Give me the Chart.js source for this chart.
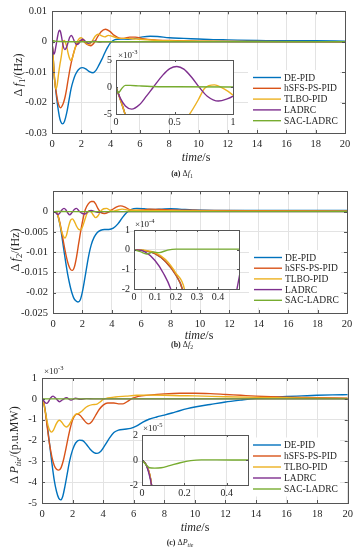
<!DOCTYPE html>
<html><head><meta charset="utf-8">
<script src="https://cdn.jsdelivr.net/npm/chart.js@4.4.0/dist/chart.umd.min.js"></script>
<style>
html,body{margin:0;padding:0;background:#fff;}
#wrap{position:relative;width:358px;height:550px;overflow:hidden;font-family:'Liberation Serif','Times New Roman',serif;color:#262626;background:#fff;}
canvas{position:absolute;}
.t{position:absolute;white-space:nowrap;line-height:1;}
.yt{transform:translate(-50%,-50%) rotate(-90deg);font-size:12px;}
.xt{transform:translate(-50%,-50%);font-size:12px;}
.cap{transform:translate(-50%,-50%);font-size:8px;}
.ex{transform:translateY(-50%);font-size:9px;}
sub{font-size:72%;vertical-align:-0.3em;line-height:0;}
sup{font-size:72%;vertical-align:0.5em;line-height:0;}
</style></head>
<body><div id="wrap">
<canvas id="ca" width="358" height="152" style="left:0;top:0"></canvas>
<canvas id="cb" width="358" height="150" style="left:0;top:180px"></canvas>
<canvas id="cc" width="358" height="160" style="left:0;top:360px"></canvas>
<canvas id="ia" width="142" height="78" style="left:96px;top:50px"></canvas>
<canvas id="ib" width="132" height="84" style="left:112px;top:220px"></canvas>
<canvas id="ic" width="133" height="75" style="left:120px;top:425px"></canvas>

<div class="t yt" style="left:18px;top:75px">Δ <i>f</i><sub>1</sub>/(Hz)</div>
<div class="t xt" style="left:196px;top:157px"><i>time</i>/s</div>
<div class="t cap" style="left:182px;top:174px"><b>(a)</b> Δ<i>f</i><sub>1</sub></div>
<div class="t ex" style="left:118px;top:55px">×10<sup>-3</sup></div>

<div class="t yt" style="left:15px;top:250px">Δ <i>f</i><sub>2</sub>/(Hz)</div>
<div class="t xt" style="left:199px;top:335px"><i>time</i>/s</div>
<div class="t cap" style="left:182px;top:345px"><b>(b)</b> Δ<i>f</i><sub>2</sub></div>
<div class="t ex" style="left:135px;top:224px">×10<sup>-4</sup></div>

<div class="t yt" style="left:14px;top:445px">Δ <i>P</i><sub><i>tie</i></sub>/(p.u.MW)</div>
<div class="t xt" style="left:195px;top:527px"><i>time</i>/s</div>
<div class="t cap" style="left:180px;top:543px"><b>(c)</b> Δ<i>P</i><sub><i>tie</i></sub></div>
<div class="t ex" style="left:44px;top:371px">×10<sup>-3</sup></div>
<div class="t ex" style="left:143px;top:428px">×10<sup>-5</sup></div>
</div>
<script>
// ---------------- DATA ----------------
const SERIES = ['DE-PID','hSFS-PS-PID','TLBO-PID','LADRC','SAC-LADRC'];
const COLORS = ['#0072BD','#D95319','#EDB120','#7E2F8E','#77AC30'];

const X_TICKS_MAIN = [0,2,4,6,8,10,12,14,16,18,20];
const F1_Y_TICKS = [0.01,0,-0.01,-0.02,-0.03];
const F2_Y_TICKS = [0,-0.005,-0.01,-0.015,-0.02,-0.025];
const PTIE_Y_TICKS = [1,0,-1,-2,-3,-4,-5];          // x10^-3
const IA_X_TICKS = [0,0.5,1];
const IA_Y_TICKS = [-0.005,0,0.005];
const IB_X_TICKS = [0,0.1,0.2,0.3,0.4];
const IB_Y_TICKS = [-0.0002,-0.0001,0,0.0001];
const IC_X_TICKS = [0,0.2,0.4];
const IC_Y_TICKS = [-0.02,0,0.02];                   // in 10^-3 units

// (a) Δf1 [time s, Hz]
const f1_DE = [[0,0],[0.04,-0.0025],[0.08,-0.0052],[0.15,-0.011],[0.2,-0.0135],[0.3,-0.0178],[0.4,-0.0215],[0.5,-0.0245],[0.6,-0.0263],[0.72,-0.027],[0.85,-0.0262],[1.0,-0.0235],[1.15,-0.0195],[1.3,-0.0155],[1.45,-0.0128],[1.6,-0.0108],[1.8,-0.0092],[2.05,-0.0085],[2.3,-0.0089],[2.55,-0.0098],[2.8,-0.0102],[3.0,-0.0094],[3.2,-0.0077],[3.4,-0.0058],[3.6,-0.0037],[3.8,-0.0018],[4.0,-0.0003],[4.3,0.0007],[4.7,0.0009],[5.2,0.0008],[5.7,0.0011],[6.2,0.0016],[6.7,0.0018],[7.2,0.0017],[8,0.0013],[9,0.0011],[10,0.0009],[11,0.0007],[12,0.0006],[14,0.0004],[16,0.0003],[18,0.0003],[20,0.0002]];
const f1_hSFS = [[0,0],[0.04,-0.0025],[0.08,-0.0052],[0.15,-0.0108],[0.2,-0.0135],[0.3,-0.017],[0.4,-0.0198],[0.5,-0.0213],[0.6,-0.0217],[0.7,-0.021],[0.8,-0.0198],[0.9,-0.018],[1.0,-0.0155],[1.1,-0.0125],[1.2,-0.0097],[1.3,-0.0072],[1.45,-0.0042],[1.6,-0.0018],[1.8,-0.0002],[1.95,0.0005],[2.15,0.0001],[2.4,-0.0009],[2.65,-0.0013],[2.9,-0.0002],[3.1,0.0015],[3.35,0.0033],[3.65,0.0041],[3.95,0.0034],[4.25,0.0021],[4.6,0.0012],[4.9,0.0011],[5.3,0.0015],[5.7,0.0015],[6.2,0.001],[7,0.0006],[8,0.0004],[10,0.0002],[14,0.0001],[20,0]];
const f1_TLBO = [[0,0],[0.04,-0.0025],[0.08,-0.0052],[0.15,-0.0105],[0.22,-0.0145],[0.28,-0.0155],[0.36,-0.014],[0.45,-0.0105],[0.55,-0.0072],[0.63,-0.005],[0.7,-0.0025],[0.76,-0.0002],[0.84,0.0004],[0.92,-0.0003],[1.0,-0.0015],[1.1,-0.0038],[1.2,-0.0055],[1.3,-0.0062],[1.4,-0.0052],[1.55,-0.0025],[1.7,-0.0002],[1.85,0.001],[2.0,0.0013],[2.15,0.0007],[2.35,-0.0006],[2.55,-0.0009],[2.75,0.0003],[2.95,0.0018],[3.15,0.0025],[3.4,0.0019],[3.6,0.0016],[3.85,0.0021],[4.1,0.0018],[4.5,0.0012],[5.0,0.0011],[5.5,0.001],[6,0.0008],[7,0.0005],[8,0.0003],[10,0.0002],[12,0.0001],[16,0],[20,0]];
const f1_LADRC = [[0,0],[0.04,-0.0022],[0.08,-0.0035],[0.134,-0.0041],[0.2,-0.0033],[0.26,-0.0017],[0.32,0],[0.4,0.0022],[0.46,0.0034],[0.52,0.0038],[0.58,0.0033],[0.65,0.0017],[0.71,0],[0.78,-0.0017],[0.875,-0.0026],[0.95,-0.0022],[1.0,-0.0017],[1.1,-0.0002],[1.2,0.0014],[1.32,0.0021],[1.42,0.0014],[1.55,-0.0001],[1.68,-0.0009],[1.8,-0.0007],[1.95,0.0002],[2.08,0.0008],[2.2,0.0005],[2.35,-0.0002],[2.5,-0.0005],[2.65,-0.0002],[2.8,0.0002],[3.0,0.0001],[3.3,-0.0001],[3.6,0],[20,0]];
const f1_SAC = [[0,0],[0.02,-0.0011],[0.045,-0.0004],[0.08,0.0003],[0.12,0.0003],[0.2,0.0002],[0.3,0.0001],[0.5,0.00005],[1,0],[20,0]];

// (b) Δf2 [time s, Hz]
const f2_DE = [[0,0],[0.05,-0.000005],[0.1,-0.00002],[0.15,-0.00006],[0.2,-0.00013],[0.23,-0.0002],[0.3,-0.0006],[0.4,-0.002],[0.5,-0.0038],[0.6,-0.006],[0.7,-0.0085],[0.8,-0.011],[0.9,-0.0133],[1.0,-0.0155],[1.1,-0.0173],[1.2,-0.0189],[1.3,-0.0202],[1.4,-0.0212],[1.55,-0.022],[1.7,-0.0223],[1.85,-0.0218],[2.0,-0.0198],[2.15,-0.0168],[2.3,-0.0135],[2.45,-0.0105],[2.6,-0.0082],[2.8,-0.0063],[3.0,-0.0052],[3.25,-0.0046],[3.5,-0.0044],[3.8,-0.0044],[4.1,-0.0041],[4.4,-0.0031],[4.7,-0.0016],[5.0,-0.0003],[5.3,0.0005],[5.7,0.0008],[6.2,0.0007],[6.8,0.0005],[7.4,0.0006],[8,0.0007],[8.6,0.0006],[9.5,0.0004],[11,0.0003],[14,0.0003],[17,0.0003],[20,0.0003]];
const f2_hSFS = [[0,0],[0.05,-0.000005],[0.1,-0.00002],[0.15,-0.00006],[0.2,-0.00013],[0.23,-0.0002],[0.3,-0.0006],[0.4,-0.0017],[0.5,-0.0033],[0.6,-0.0052],[0.7,-0.0072],[0.8,-0.0092],[0.9,-0.011],[1.0,-0.0125],[1.1,-0.0136],[1.2,-0.0143],[1.32,-0.0145],[1.45,-0.0137],[1.6,-0.0112],[1.75,-0.0078],[1.9,-0.0045],[2.05,-0.0017],[2.2,0.0005],[2.4,0.0019],[2.6,0.0025],[2.75,0.0025],[2.9,0.0019],[3.05,0.0008],[3.25,-0.0002],[3.5,-0.0005],[3.75,-0.0002],[4.0,0.0004],[4.3,0.0011],[4.6,0.0014],[4.9,0.0011],[5.2,0.0005],[5.6,0.0003],[6.1,0.0004],[6.6,0.0006],[7.2,0.0005],[8,0.0004],[10,0.0003],[14,0.0002],[20,0.0001]];
const f2_TLBO = [[0,0],[0.05,-0.000003],[0.1,-0.000015],[0.15,-0.00005],[0.2,-0.00012],[0.24,-0.0002],[0.32,-0.0008],[0.42,-0.0022],[0.52,-0.0039],[0.62,-0.0053],[0.72,-0.0062],[0.82,-0.0065],[0.92,-0.0058],[1.05,-0.0038],[1.2,-0.0021],[1.32,-0.0018],[1.45,-0.0024],[1.6,-0.0036],[1.75,-0.0044],[1.88,-0.0045],[2.0,-0.0038],[2.15,-0.0022],[2.3,-0.0006],[2.45,0.0002],[2.6,-0.0001],[2.75,-0.0009],[2.9,-0.0015],[3.05,-0.0011],[3.25,0.0001],[3.45,0.0007],[3.65,0.0008],[3.85,0.0004],[4.1,0.0001],[4.4,0.0004],[4.7,0.0006],[5.1,0.0004],[6,0.0003],[8,0.0002],[12,0.0001],[20,0.0001]];
const f2_LADRC = [[0,0],[0.05,-0.00001],[0.1,-0.000055],[0.14,-0.00012],[0.175,-0.0002],[0.25,-0.0005],[0.34,-0.0007],[0.45,-0.0004],[0.6,0.0004],[0.75,0.0008],[0.9,0.0003],[1.0,-0.0003],[1.14,-0.0008],[1.28,-0.0003],[1.45,0.0005],[1.6,0.0008],[1.75,0.0002],[1.95,-0.0004],[2.16,-0.0006],[2.35,-0.0001],[2.6,0.0003],[2.85,0],[3.1,-0.0002],[3.4,0],[20,0]];
const f2_SAC = [[0,0],[0.03,-0.00001],[0.06,-0.000022],[0.09,-0.000012],[0.12,-0.000015],[0.16,-0.000002],[0.2,0.000003],[0.5,0.000003],[1,0.000002],[20,0]];

// (c) ΔPtie [time s, 10^-3 p.u.MW]
const ptie_DE = [[0,0],[0.02,-0.004],[0.045,-0.02],[0.1,-0.13],[0.2,-0.5],[0.35,-1.3],[0.5,-2.2],[0.65,-3.1],[0.8,-3.9],[0.95,-4.45],[1.1,-4.78],[1.22,-4.85],[1.35,-4.7],[1.5,-4.2],[1.65,-3.6],[1.8,-3.0],[2.0,-2.45],[2.2,-2.12],[2.45,-1.98],[2.65,-2.0],[2.9,-2.18],[3.15,-2.42],[3.4,-2.58],[3.6,-2.62],[3.85,-2.52],[4.1,-2.25],[4.4,-1.9],[4.7,-1.62],[5.0,-1.5],[5.4,-1.46],[5.8,-1.42],[6.2,-1.3],[6.6,-1.12],[7.0,-0.98],[7.5,-0.87],[8,-0.78],[8.5,-0.68],[9,-0.57],[9.5,-0.47],[10,-0.39],[11,-0.27],[12,-0.15],[13,-0.06],[14,0.02],[15,0.07],[16,0.11],[17,0.14],[18,0.17],[19,0.19],[20,0.2]];
const ptie_hSFS = [[0,0],[0.02,-0.004],[0.045,-0.02],[0.1,-0.15],[0.2,-0.55],[0.35,-1.4],[0.5,-2.2],[0.65,-2.8],[0.8,-3.2],[0.95,-3.38],[1.1,-3.42],[1.25,-3.3],[1.4,-2.95],[1.55,-2.45],[1.7,-1.9],[1.85,-1.4],[2.0,-1.02],[2.15,-0.8],[2.3,-0.73],[2.5,-0.8],[2.7,-0.98],[2.9,-1.15],[3.05,-1.2],[3.25,-1.1],[3.5,-0.8],[3.75,-0.5],[4.0,-0.3],[4.3,-0.2],[4.7,-0.2],[5.0,-0.24],[5.3,-0.24],[5.6,-0.12],[5.9,0.02],[6.3,0.12],[7,0.18],[8,0.24],[9,0.27],[10,0.27],[11,0.25],[12,0.21],[13,0.17],[14,0.13],[15,0.1],[16,0.08],[18,0.05],[20,0.03]];
const ptie_TLBO = [[0,0],[0.02,-0.004],[0.045,-0.02],[0.1,-0.15],[0.2,-0.55],[0.3,-0.95],[0.4,-1.3],[0.5,-1.5],[0.62,-1.6],[0.75,-1.5],[0.9,-1.25],[1.05,-1.06],[1.15,-1.03],[1.3,-1.13],[1.45,-1.28],[1.6,-1.35],[1.75,-1.27],[1.9,-1.08],[2.05,-0.88],[2.2,-0.75],[2.4,-0.7],[2.6,-0.6],[2.8,-0.45],[3.0,-0.35],[3.3,-0.28],[3.6,-0.25],[3.8,-0.15],[4.0,-0.03],[4.3,0.04],[4.8,0.09],[5.5,0.13],[6.2,0.17],[7,0.18],[8,0.17],[9,0.15],[10,0.14],[12,0.1],[14,0.07],[16,0.05],[18,0.03],[20,0.02]];
const ptie_LADRC = [[0,0],[0.02,-0.004],[0.045,-0.02],[0.1,-0.08],[0.2,-0.18],[0.3,-0.22],[0.42,-0.14],[0.55,0.03],[0.72,0.13],[0.9,0.03],[1.15,-0.14],[1.35,-0.04],[1.6,0.05],[1.9,-0.06],[2.2,0.03],[2.5,-0.02],[2.9,0.01],[3.4,0],[20,0]];
const ptie_SAC = [[0,0],[0.015,-0.003],[0.035,-0.0062],[0.06,-0.0065],[0.09,-0.0062],[0.13,-0.0045],[0.18,-0.0022],[0.23,-0.0005],[0.28,0.0001],[0.35,0.0001],[0.5,0],[1,0],[20,0]];

const F1 = [f1_DE,f1_hSFS,f1_TLBO,f1_LADRC,f1_SAC];
const F2 = [f2_DE,f2_hSFS,f2_TLBO,f2_LADRC,f2_SAC];
const PTIE = [ptie_DE,ptie_hSFS,ptie_TLBO,ptie_LADRC,ptie_SAC];

// ---------------- STYLE / HELPERS ----------------
const FONT = "'Liberation Serif','Times New Roman',serif";
Chart.defaults.font.family = FONT;
const GRID = '#e3e3e3', AXIS = '#555555', TXT = '#262626';

function datasets(list){
  return list.map((pts,i)=>({
    label: SERIES[i],
    data: pts.map(p=>({x:p[0],y:p[1]})),
    borderColor: COLORS[i], backgroundColor: COLORS[i],
    borderWidth: 1.4, pointRadius: 0, fill:false,
    cubicInterpolationMode:'monotone',
    order: SERIES.length-1-i
  }));
}

const framePlugin = {
  id:'frame',
  beforeDraw(chart,args,o){
    if(o && o.bg){ const a=chart.chartArea, c=chart.ctx;
      c.save(); c.fillStyle='#fff'; c.fillRect(a.left,a.top,a.right-a.left,a.bottom-a.top); c.restore(); }
  },
  afterDraw(chart,args,o){
    const c=chart.ctx, a=chart.chartArea, x=chart.scales.x, y=chart.scales.y, L=(o&&o.tick)||3;
    c.save(); c.strokeStyle=AXIS; c.lineWidth=1;
    c.beginPath();
    x.ticks.forEach(t=>{ const p=Math.round(x.getPixelForValue(t.value))+0.5;
      c.moveTo(p,a.bottom); c.lineTo(p,a.bottom-L); c.moveTo(p,a.top); c.lineTo(p,a.top+L); });
    y.ticks.forEach(t=>{ const p=Math.round(y.getPixelForValue(t.value))+0.5;
      c.moveTo(a.left,p); c.lineTo(a.left+L,p); c.moveTo(a.right,p); c.lineTo(a.right-L,p); });
    c.stroke();
    c.strokeRect(Math.round(a.left)+0.5,Math.round(a.top)+0.5,Math.round(a.right-a.left),Math.round(a.bottom-a.top));
    c.restore();
  }
};

const legendPlugin = {
  id:'mlegend',
  afterDraw(chart,args,o){
    if(!o || !o.show) return;
    const c=chart.ctx, ds=chart.data.datasets;
    c.save();
    c.fillStyle='#fff';
    c.fillRect(o.x-5, o.y-o.dy/2-2, o.w, o.dy*ds.length+4);
    c.font = o.size+'px '+FONT; c.textBaseline='middle'; c.textAlign='left';
    ds.forEach((d,i)=>{
      const yy=o.y+i*o.dy;
      c.strokeStyle=d.borderColor; c.lineWidth=1.4;
      c.beginPath(); c.moveTo(o.x,yy); c.lineTo(o.x+o.len,yy); c.stroke();
      c.fillStyle=TXT; c.fillText(d.label,o.x+o.len+3,yy+0.5);
    });
    c.restore();
  }
};

function makeChart(id, cfg){
  const canvas=document.getElementById(id);
  const W=canvas.width, H=canvas.height;
  const cl=cfg.canvasLeft, ct=cfg.canvasTop;
  return new Chart(canvas,{
    type:'line',
    data:{datasets:datasets(cfg.series)},
    options:{
      responsive:false, animation:false, events:[],
      layout:{padding:{left:0,top:cfg.plot[1]-ct,right:(cl+W)-cfg.plot[2],bottom:0}},
      plugins:{legend:{display:false},tooltip:{enabled:false},
        frame:{bg:cfg.bg,tick:cfg.tickLen},
        mlegend:cfg.legend?{show:true,x:cfg.legend.x-cl,y:cfg.legend.y-ct,dy:cfg.legend.dy,len:28,w:92,size:9.5}:{show:false}},
      scales:{
        x:{type:'linear',min:cfg.xmin,max:cfg.xmax,
          afterBuildTicks:s=>{s.ticks=cfg.xticks.map(v=>({value:v}));},
          afterFit:s=>{s.height=(ct+H)-cfg.plot[3];},
          grid:{display:cfg.grid,color:GRID,drawTicks:false,lineWidth:1},
          border:{display:false},
          ticks:{color:TXT,font:{size:cfg.fs,family:FONT},padding:cfg.xpad,maxRotation:0,autoSkip:false,callback:cfg.xfmt}},
        y:{type:'linear',min:cfg.ymin,max:cfg.ymax,
          afterBuildTicks:s=>{s.ticks=cfg.yticks.map(v=>({value:v}));},
          afterFit:s=>{s.width=cfg.plot[0]-cl;},
          grid:{display:cfg.grid,color:GRID,drawTicks:false,lineWidth:1},
          border:{display:false},
          ticks:{color:TXT,font:{size:cfg.fs,family:FONT},padding:cfg.ypad,autoSkip:false,callback:cfg.yfmt}}
      }
    },
    plugins:[framePlugin,legendPlugin]
  });
}

const num = v => String(+(+v).toFixed(6));

// main (a)
makeChart('ca',{canvasLeft:0,canvasTop:0,plot:[52,10,345,133],series:F1,xmin:0,xmax:20,ymin:-0.03,ymax:0.01,
  xticks:X_TICKS_MAIN,yticks:F1_Y_TICKS,grid:true,fs:10.5,xpad:5,ypad:5,tickLen:3,bg:false,
  xfmt:num,yfmt:num,legend:{x:253,y:77.5,dy:10.8}});
// main (b)
makeChart('cb',{canvasLeft:0,canvasTop:180,plot:[53,189,347,313],series:F2,xmin:0,xmax:20,ymin:-0.025,ymax:0.005,
  xticks:X_TICKS_MAIN,yticks:F2_Y_TICKS,grid:true,fs:10.5,xpad:5,ypad:5,tickLen:3,bg:false,
  xfmt:num,yfmt:num,legend:{x:254,y:257.5,dy:10.7}});
// main (c)
makeChart('cc',{canvasLeft:0,canvasTop:360,plot:[42,378,348,503],series:PTIE,xmin:0,xmax:20,ymin:-5,ymax:1,
  xticks:X_TICKS_MAIN,yticks:PTIE_Y_TICKS,grid:true,fs:10.5,xpad:5,ypad:5,tickLen:3,bg:false,
  xfmt:num,yfmt:num,legend:{x:253,y:445,dy:11}});
// inset (a)
makeChart('ia',{canvasLeft:96,canvasTop:50,plot:[116,59,233,114],series:F1,xmin:0,xmax:1,ymin:-0.005,ymax:0.005,
  xticks:IA_X_TICKS,yticks:IA_Y_TICKS,grid:false,fs:10,xpad:2,ypad:4,tickLen:2,bg:true,
  xfmt:num,yfmt:v=>String(Math.round(v*1000))});
// inset (b)
makeChart('ib',{canvasLeft:112,canvasTop:220,plot:[134,229,239,289],series:F2,xmin:0,xmax:0.5,ymin:-0.0002,ymax:0.0001,
  xticks:IB_X_TICKS,yticks:IB_Y_TICKS,grid:true,fs:10,xpad:2,ypad:4,tickLen:2,bg:true,
  xfmt:num,yfmt:v=>String(Math.round(v*1e4))});
// inset (c)
makeChart('ic',{canvasLeft:120,canvasTop:425,plot:[142,434,248,485],series:PTIE,xmin:0,xmax:0.5,ymin:-0.02,ymax:0.02,
  xticks:IC_X_TICKS,yticks:IC_Y_TICKS,grid:true,fs:10,xpad:2,ypad:4,tickLen:2,bg:true,
  xfmt:num,yfmt:v=>String(Math.round(v*100))});
</script>
</body></html>
